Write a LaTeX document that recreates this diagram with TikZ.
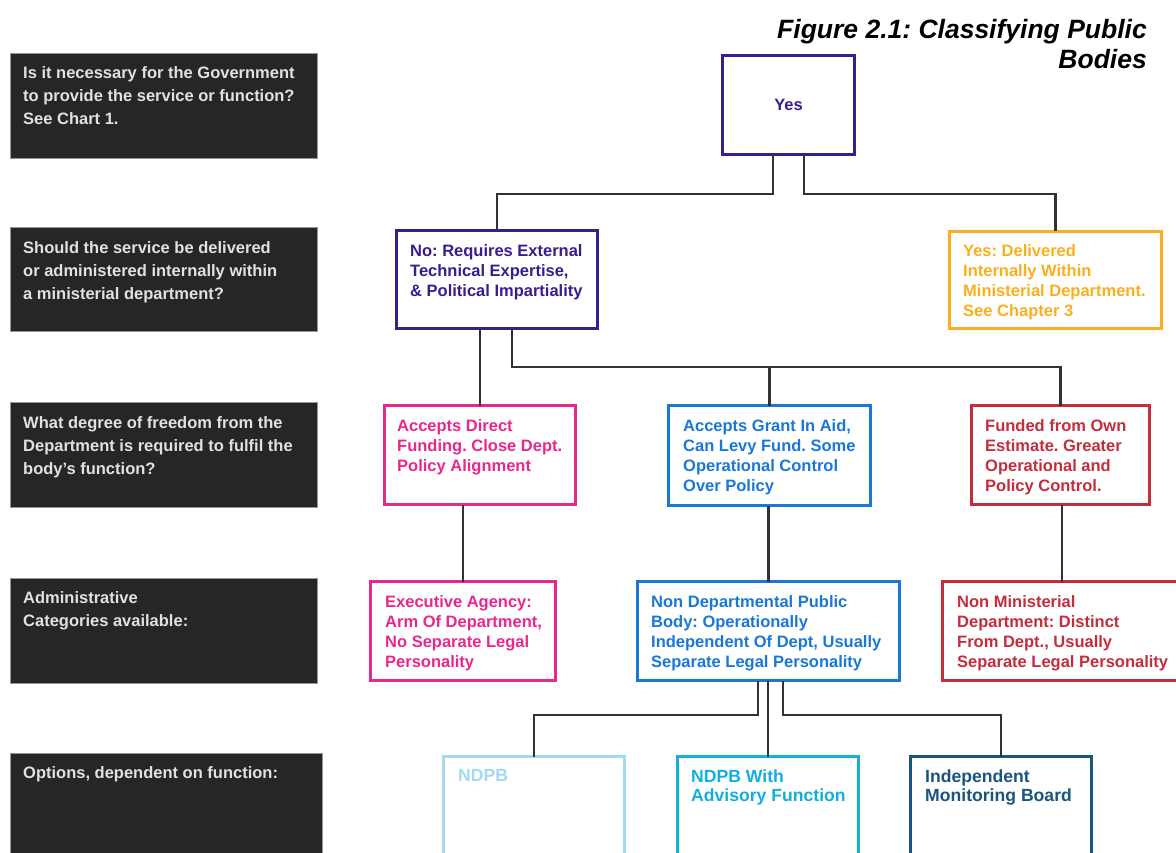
\documentclass[tikz,border=0pt]{standalone}
\usepackage{fontspec}
\setmainfont{Liberation Sans}
\frenchspacing
\definecolor{darkbg}{RGB}{38,38,38}
\definecolor{darkedge}{RGB}{150,150,150}
\definecolor{lighttext}{RGB}{225,225,225}
\definecolor{purp}{RGB}{58,28,145}
\definecolor{orng}{RGB}{250,175,30}
\definecolor{pnk}{RGB}{232,40,140}
\definecolor{blu}{RGB}{25,120,215}
\definecolor{rd}{RGB}{195,45,60}
\definecolor{ltblu}{RGB}{165,218,238}
\definecolor{cyn}{RGB}{20,175,225}
\definecolor{dkteal}{RGB}{25,85,125}
\definecolor{connc}{RGB}{50,50,50}
\begin{document}
\frenchspacing
\begin{tikzpicture}[x=1pt,y=-1pt,
  dark/.style={fill=darkbg, draw=darkedge, line width=1pt, inner sep=0, outer sep=0, anchor=north west},
  cbox/.style={draw=#1, fill=white, line width=2.8pt, inner sep=0, outer sep=0, anchor=north west},
  dtxt/.style={text=lighttext, font=\bfseries\fontsize{16.5}{23}\selectfont, align=left, anchor=north west, inner sep=0},
  ctxt/.style={text=#1, font=\bfseries\fontsize{16.5}{20}\selectfont, align=left, anchor=north west, inner sep=0},
  btxt/.style={text=#1, font=\bfseries\fontsize{17.6}{19}\selectfont, align=left, anchor=north west, inner sep=0},
  conn/.style={draw=connc, line width=2.5pt}
]
\useasboundingbox (0,0) rectangle (1176,853);
\clip (0,0) rectangle (1176,853);
\fill[white] (0,0) rectangle (1176,853);

% title
\node[font=\bfseries\itshape\fontsize{26.5}{30}\selectfont, align=right, anchor=north east, inner sep=0] (title) at (1147,19) {Figure 2.1: Classifying Public\\Bodies};

% left question boxes
\node[dark, minimum width=307, minimum height=105] (q1) at (10.5,53.5) {};
\node[dark, minimum width=307, minimum height=104] (q2) at (10.5,227.5) {};
\node[dark, minimum width=307, minimum height=105] (q3) at (10.5,402.5) {};
\node[dark, minimum width=307, minimum height=105] (q4) at (10.5,578.5) {};
\node[dark, minimum width=312, minimum height=150] (q5) at (10.5,753.5) {};
\node[dtxt] (q1t) at (23,66.1) {Is it necessary for the Government\\to provide the service or function?\\See Chart 1.};
\node[dtxt] (q2t) at (23,241.1) {Should the service be delivered\\or administered internally within\\a ministerial department?};
\node[dtxt] (q3t) at (23,416.6) {What degree of freedom from the\\Department is required to fulfil the\\body’s function?};
\node[dtxt] (q4t) at (23,591.1) {Administrative\\Categories available:};
\node[dtxt] (q5t) at (23,766.1) {Options, dependent on function:};

% boxes
\node[cbox=purp, minimum width=132, minimum height=99] (yes) at (722.5,55.5) {};
\node[cbox=purp, minimum width=201, minimum height=98] (no) at (396.5,230.5) {};
\node[cbox=orng, minimum width=212, minimum height=97] (yesint) at (949.5,231.5) {};
\node[cbox=pnk, minimum width=191, minimum height=99] (pink) at (384.5,405.5) {};
\node[cbox=blu, minimum width=202, minimum height=100] (grant) at (668.5,405.5) {};
\node[cbox=rd, minimum width=178, minimum height=99] (funded) at (971.5,405.5) {};
\node[cbox=pnk, minimum width=185, minimum height=99] (exec) at (370.5,581.5) {};
\node[cbox=blu, minimum width=262, minimum height=99] (ndpb) at (637.5,581.5) {};
\node[cbox=rd, minimum width=239, minimum height=99] (nonmin) at (942.5,581.5) {};
\node[cbox=ltblu, minimum width=181, minimum height=150] (ndpbl) at (443.5,756.5) {};
\node[cbox=cyn, minimum width=181, minimum height=150] (with) at (677.5,756.5) {};
\node[cbox=dkteal, minimum width=181, minimum height=150] (indep) at (910.5,756.5) {};

% box texts
\node[ctxt=purp, anchor=center] (yest) at (yes.center) {Yes};
\node[ctxt=purp] (not) at (410,244.8) {No: Requires External\\Technical Expertise,\\\& Political Impartiality};
\node[ctxt=orng] (yesintt) at (963,244.8) {Yes: Delivered\\Internally Within\\Ministerial Department.\\See Chapter 3};
\node[ctxt=pnk] (pinkt) at (397,419.1) {Accepts Direct\\Funding. Close Dept.\\Policy Alignment};
\node[ctxt=blu] (grantt) at (683,419.1) {Accepts Grant In Aid,\\Can Levy Fund. Some\\Operational Control\\Over Policy};
\node[ctxt=rd] (fundedt) at (985,419.1) {Funded from Own\\Estimate. Greater\\Operational and\\Policy Control.};
\node[ctxt=pnk] (exect) at (385,595.1) {Executive Agency:\\Arm Of Department,\\No Separate Legal\\Personality};
\node[ctxt=blu] (ndpbt) at (651,595.1) {Non Departmental Public\\Body: Operationally\\Independent Of Dept, Usually\\Separate Legal Personality};
\node[ctxt=rd] (nonmint) at (957,595.1) {Non Ministerial\\Department: Distinct\\From Dept., Usually\\Separate Legal Personality};
\node[btxt=ltblu] (ndpblt) at (458,769.3) {NDPB};
\node[btxt=cyn] (witht) at (691,769.3) {NDPB With\\Advisory Function};
\node[btxt=dkteal] (indept) at (925,769.3) {Independent\\Monitoring Board};

% connectors
\draw[conn] ([xshift=-15.5]yes.south) -- ++(0,39.5) -| (no.north);
\draw[conn] ([xshift=15.5]yes.south) -- ++(0,39.5) -| (yesint.north);
\draw[conn] (pink.north |- no.south) -- (pink.north);
\draw[conn] ([xshift=15]no.south) -- ++(0,38.5) coordinate (hbar) -| (funded.north);
\draw[conn] (grant.north |- hbar) -- (grant.north);
\draw[conn] (exec.north |- pink.south) -- (exec.north);
\draw[conn] (ndpb.north |- grant.south) -- (ndpb.north);
\draw[conn] (nonmin.north |- funded.south) -- (nonmin.north);
\draw[conn] ([xshift=-10.5]ndpb.south) -- ++(0,34.5) -| (ndpbl.north);
\draw[conn] (with.north |- ndpb.south) -- (with.north);
\draw[conn] ([xshift=14.5]ndpb.south) -- ++(0,34.5) -| (indep.north);
\end{tikzpicture}
\end{document}
